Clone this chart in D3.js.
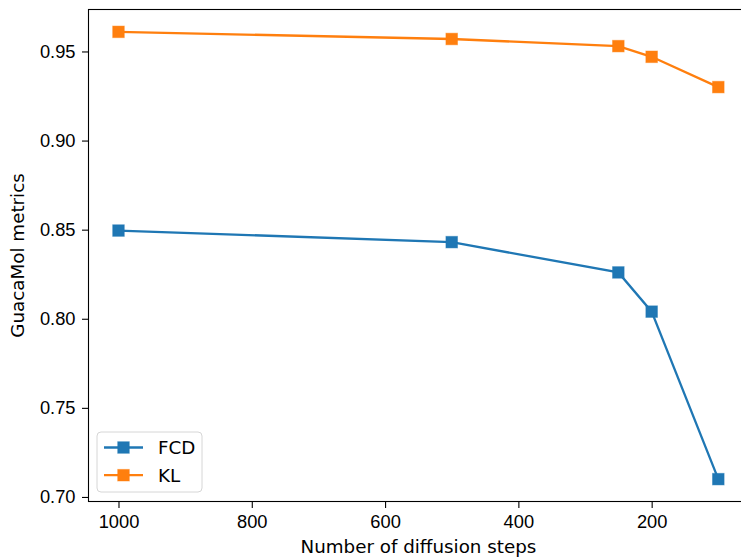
<!DOCTYPE html>
<html>
<head>
<meta charset="utf-8">
<script src="https://cdn.jsdelivr.net/npm/d3@7"></script>
<style>
  body { margin: 0; background: #fff; }
  svg { display: block; font-family: "DejaVu Sans", sans-serif; }
</style>
</head>
<body>
<div id="chart"></div>
<script>
// values
const steps = [1000, 500, 250, 200, 100]
const fcd = [0.8495, 0.843, 0.826, 0.804, 0.710]
const kl = [0.961, 0.957, 0.953, 0.947, 0.930]
const xTicks = [1000, 800, 600, 400, 200]
const yTicks = [0.70, 0.75, 0.80, 0.85, 0.90, 0.95]

const W = 741, H = 557
const margin = {top: 9.5, right: -7.3, bottom: 55.5, left: 88.5},
    width = W - margin.left - margin.right,
    height = H - margin.top - margin.bottom
const fontSize = "18.3px"

const series = [
    {name: "FCD", values: fcd, color: "#1f77b4"},
    {name: "KL", values: kl, color: "#ff7f0e"}
]

const svg = d3.select("#chart").append("svg")
    .attr("width", W)
    .attr("height", H)

const g = svg.append("g")
    .attr("transform", `translate(${margin.left},${margin.top})`)

// matplotlib style 5% margins, reversed x
const xPad = (d3.max(steps) - d3.min(steps)) * 0.05
const x = d3.scaleLinear()
    .domain([d3.max(steps) + xPad, d3.min(steps) - xPad])
    .range([0, width])

const allY = fcd.concat(kl)
const yPad = (d3.max(allY) - d3.min(allY)) * 0.05
const y = d3.scaleLinear()
    .domain([d3.min(allY) - yPad, d3.max(allY) + yPad])
    .range([height, 0])

const xAxis = d3.axisBottom(x).tickValues(xTicks).tickSize(6.5).tickPadding(3).tickFormat(d3.format("d"))
const yAxis = d3.axisLeft(y).tickValues(yTicks).tickSize(6.5).tickPadding(6.5).tickFormat(d3.format(".2f"))

const gx = g.append("g")
    .attr("transform", `translate(0,${height})`)
    .call(xAxis)
const gy = g.append("g").call(yAxis)

;[gx, gy].forEach(a => {
    a.select(".domain").remove()
    a.selectAll(".tick line").attr("stroke", "#000").attr("stroke-width", 1.1)
    a.selectAll(".tick text").attr("fill", "#000").style("font-size", fontSize)
})
gx.selectAll(".tick text").attr("dy", "0.95em")

// lines and markers
const line = d3.line()
    .x((d, i) => x(steps[i]))
    .y(d => y(d))

series.forEach(s => {
    g.append("path")
        .datum(s.values)
        .attr("fill", "none")
        .attr("stroke", s.color)
        .attr("stroke-width", 2.3)
        .attr("d", line)

    g.selectAll(null)
        .data(s.values)
        .enter().append("rect")
        .attr("x", (d, i) => x(steps[i]) - 5.8)
        .attr("y", d => y(d) - 5.8)
        .attr("width", 11.6)
        .attr("height", 11.6)
        .attr("fill", s.color)
        .attr("stroke", s.color)
        .attr("stroke-opacity", 0.45)
        .attr("stroke-width", 1)
})

// spines
g.append("rect")
    .attr("width", width)
    .attr("height", height)
    .attr("fill", "none")
    .attr("stroke", "#000")
    .attr("stroke-width", 1.1)

// axis labels
svg.append("text")
    .attr("x", margin.left + x(550))
    .attr("y", 553)
    .attr("text-anchor", "middle")
    .style("font-size", fontSize)
    .text("Number of diffusion steps")

svg.append("text")
    .attr("transform", `translate(24,${margin.top + height / 2}) rotate(-90)`)
    .attr("text-anchor", "middle")
    .style("font-size", fontSize)
    .text("GuacaMol metrics")

// legend
const legend = svg.append("g").attr("transform", "translate(97,432)")
legend.append("rect")
    .attr("width", 105)
    .attr("height", 60)
    .attr("rx", 4)
    .attr("fill", "#fff")
    .attr("fill-opacity", 0.8)
    .attr("stroke", "#d6d6d6")
    .attr("stroke-width", 1)

series.forEach((s, i) => {
    const row = legend.append("g").attr("transform", `translate(0,${15.5 + i * 27.7})`)
    row.append("line")
        .attr("x1", 7).attr("x2", 46)
        .attr("stroke", s.color)
        .attr("stroke-width", 2.3)
    row.append("rect")
        .attr("x", 26.5 - 5.8).attr("y", -5.8)
        .attr("width", 11.6).attr("height", 11.6)
        .attr("fill", s.color)
        .attr("stroke", s.color)
        .attr("stroke-opacity", 0.45)
    row.append("text")
        .attr("x", 61)
        .attr("dy", "0.36em")
        .style("font-size", fontSize)
        .text(s.name)
})
</script>
</body>
</html>
